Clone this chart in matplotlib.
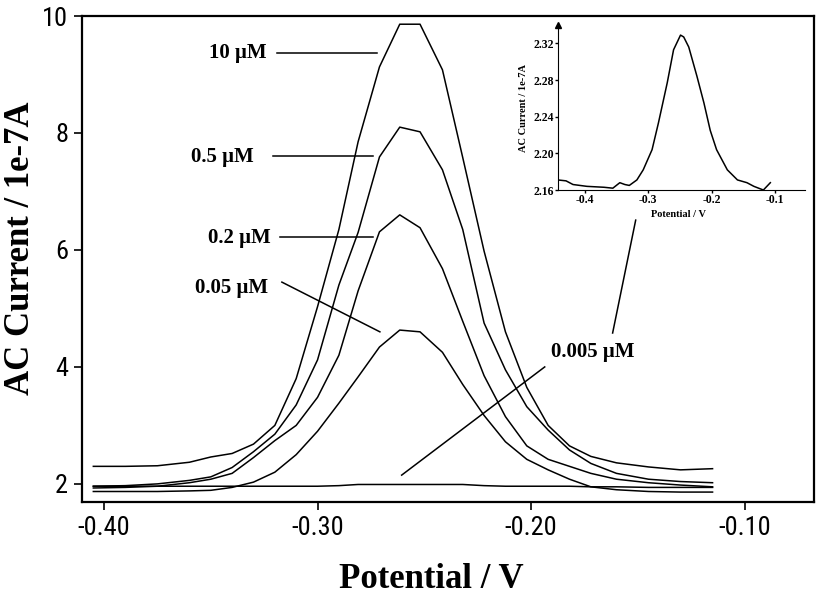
import matplotlib
matplotlib.use("Agg")
import matplotlib.pyplot as plt
from matplotlib import font_manager

# potentiel (V) et courants (1e-7 A)
potential = [-0.405, -0.390, -0.375, -0.360, -0.350, -0.340, -0.330, -0.320,
             -0.310, -0.300, -0.290, -0.281, -0.271, -0.2615, -0.252, -0.2415,
             -0.232, -0.222, -0.212, -0.202, -0.192, -0.182, -0.172, -0.160,
             -0.145, -0.130, -0.115]

i_10uM = [2.30, 2.30, 2.31, 2.37, 2.46, 2.52, 2.68, 3.00, 3.80, 5.03, 6.35,
          7.85, 9.13, 9.86, 9.86, 9.08, 7.58, 5.98, 4.60, 3.65, 3.00, 2.65,
          2.47, 2.36, 2.29, 2.24, 2.26]
i_05uM = [1.96, 1.97, 2.00, 2.06, 2.12, 2.28, 2.55, 2.85, 3.35, 4.12, 5.40,
          6.30, 7.59, 8.10, 8.02, 7.37, 6.35, 4.75, 3.95, 3.32, 2.92, 2.58,
          2.35, 2.18, 2.08, 2.04, 2.02]
i_02uM = [1.93, 1.94, 1.96, 2.02, 2.08, 2.18, 2.45, 2.74, 3.00, 3.48, 4.20,
          5.30, 6.31, 6.60, 6.38, 5.68, 4.78, 3.85, 3.15, 2.65, 2.42, 2.30,
          2.18, 2.08, 2.02, 1.98, 1.95]
i_005uM = [1.87, 1.87, 1.87, 1.88, 1.89, 1.94, 2.03, 2.20, 2.50, 2.90, 3.38,
           3.83, 4.34, 4.63, 4.60, 4.25, 3.70, 3.17, 2.72, 2.42, 2.24, 2.08,
           1.95, 1.90, 1.87, 1.86, 1.86]
i_0005uM = [1.96, 1.96, 1.96, 1.96, 1.96, 1.96, 1.96, 1.96, 1.96, 1.96, 1.97,
            1.99, 1.99, 1.99, 1.99, 1.99, 1.99, 1.97, 1.96, 1.96, 1.96, 1.96,
            1.95, 1.95, 1.94, 1.94, 1.94]

# encart : 0.005 uM agrandi
inset_potential = [-0.443, -0.430, -0.419, -0.397, -0.370, -0.356, -0.345,
                   -0.337, -0.330, -0.318, -0.308, -0.294, -0.284, -0.270,
                   -0.260, -0.249, -0.244, -0.236, -0.223, -0.212, -0.202,
                   -0.192, -0.175, -0.159, -0.144, -0.133, -0.118, -0.107]
inset_current = [2.171, 2.170, 2.166, 2.164, 2.163, 2.162, 2.168, 2.166,
                 2.165, 2.171, 2.182, 2.204, 2.233, 2.277, 2.313, 2.329,
                 2.327, 2.316, 2.284, 2.255, 2.225, 2.204, 2.182, 2.171,
                 2.168, 2.164, 2.160, 2.168]

# police étroite pour les graduations si elle existe
fontes = font_manager.fontManager.ttflist
noms = {f.name for f in fontes}
sans = ['Liberation Sans']
stretch = 'normal'
if 'Liberation Sans Narrow' in noms:
    sans = ['Liberation Sans Narrow']
elif 'Roboto Condensed' in noms:
    sans = ['Roboto Condensed']
elif any(f.name == 'DejaVu Sans' and f.stretch == 'condensed' for f in fontes):
    sans = ['DejaVu Sans']
    stretch = 'condensed'
serif = ['Liberation Serif']

fig = plt.figure(figsize=(8.17, 6.0), dpi=100)
ax = fig.add_axes([0.1004, 0.1633, 0.8959, 0.81])

for courant in [i_10uM, i_05uM, i_02uM, i_005uM, i_0005uM]:
    ax.plot(potential, courant, color='black', lw=1.1)

ax.set_xlim(-0.4103, -0.0675)
ax.set_ylim(1.69, 10.0)
ax.set_xticks([-0.40, -0.30, -0.20, -0.10])
ax.set_xticklabels(['-0.40', '-0.30', '-0.20', '-0.10'])
ax.set_yticks([2, 4, 6, 8, 10])
ax.set_yticklabels(['2', '4', '6', '8', '10'])
ax.tick_params(direction='out', length=6, width=1.2, labelsize=19, pad=4)
for lab in ax.get_xticklabels() + ax.get_yticklabels():
    lab.set_family(sans)
    lab.set_stretch(stretch)
for s in ax.spines.values():
    s.set_linewidth(1.6)

ax.set_xlabel('Potential / V', family=serif, fontweight='bold', fontsize=25)
ax.set_ylabel('AC Current / 1e-7A', family=serif, fontweight='bold', fontsize=25)
ax.xaxis.set_label_coords(0.477, -0.125)
ax.yaxis.set_label_coords(-0.062, 0.523)

# étiquettes des concentrations
labels = [('10 μM', -0.3375, 9.37, -0.319, 9.37, -0.2722, 9.37),
          ('0.5 μM', -0.3448, 7.59, -0.3209, 7.61, -0.2741, 7.61),
          ('0.2 μM', -0.3364, 6.21, -0.3176, 6.22, -0.2741, 6.22),
          ('0.05 μM', -0.3401, 5.35, -0.3167, 5.45, -0.2708, 4.60),
          ('0.005 μM', -0.1712, 4.26, -0.1936, 4.00, -0.2606, 2.15)]
for txt, tx, ty, x0, y0, x1, y1 in labels:
    ax.text(tx, ty, txt, ha='center', va='center', family=serif,
            fontweight='bold', fontsize=15)
    ax.plot([x0, x1], [y0, y1], color='black', lw=1.1)
# trait vers l'encart
ax.plot([-0.151, -0.1618], [6.51, 4.58], color='black', lw=1.1)

# encart
axi = fig.add_axes([0.683, 0.6833, 0.302, 0.275])
axi.plot(inset_potential, inset_current, color='black', lw=1.1)
axi.set_xlim(-0.4427, -0.0526)
axi.set_ylim(2.16, 2.34)
axi.set_xticks([-0.4, -0.3, -0.2, -0.1])
axi.set_xticklabels(['-0.4', '-0.3', '-0.2', '-0.1'])
axi.set_yticks([2.16, 2.20, 2.24, 2.28, 2.32])
axi.set_yticklabels(['2.16', '2.20', '2.24', '2.28', '2.32'])
axi.spines['top'].set_visible(False)
axi.spines['right'].set_visible(False)
axi.tick_params(direction='out', length=2, width=1, labelsize=8.5, pad=1)
for lab in axi.get_xticklabels() + axi.get_yticklabels():
    lab.set_family(serif)
    lab.set_fontweight('bold')
axi.plot([0], [1], marker='^', color='black', markersize=4,
         transform=axi.transAxes, clip_on=False)
axi.set_xlabel('Potential / V', family=serif, fontweight='bold', fontsize=7.5)
axi.set_ylabel('AC Current / 1e-7A', family=serif, fontweight='bold', fontsize=7.5)
axi.xaxis.set_label_coords(0.49, -0.12)
axi.yaxis.set_label_coords(-0.12, 0.5)

fig.savefig('out.png', dpi=100)
